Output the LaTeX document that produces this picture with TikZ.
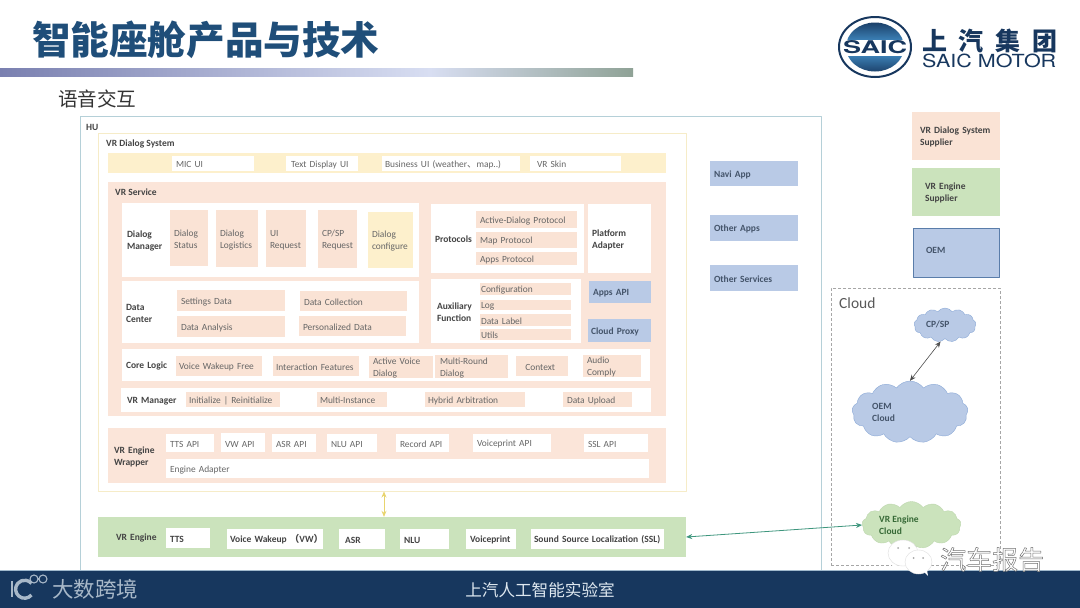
\documentclass[tikz,border=0pt]{standalone}
\usepackage{fontspec}
\usepackage{graphicx}
\setmainfont{Carlito}
\newfontfamily\cjk{Noto Sans CJK SC}
\newfontfamily\heros{TeX Gyre Heros}
\usetikzlibrary{shapes.symbols,arrows.meta}
\definecolor{peach}{HTML}{FBE5D9}
\definecolor{peachb}{HTML}{FAE3D5}
\definecolor{cream}{HTML}{FDF0CC}
\definecolor{bluebx}{HTML}{B9CAE6}
\definecolor{greenbx}{HTML}{CBE3BC}
\definecolor{navy}{HTML}{17375E}
\definecolor{titleblue}{HTML}{1F4E79}
\definecolor{txtgray}{HTML}{666666}
\definecolor{txtdark}{HTML}{444444}
\definecolor{txtblue}{HTML}{44546A}
\definecolor{barA}{HTML}{7A80B0}
\definecolor{barB}{HTML}{D8DEF2}
\definecolor{barC}{HTML}{8FA296}
\definecolor{logoblue}{HTML}{3A7DB2}
\definecolor{huline}{HTML}{B5D0D8}
\definecolor{dlgline}{HTML}{F6ECC8}
\definecolor{oemline}{HTML}{5A7DAA}
\definecolor{cloudblue}{HTML}{8CAAD7}
\definecolor{cloudgreen}{HTML}{BED7AF}
\definecolor{arrowyellow}{HTML}{E8D46E}
\definecolor{arrowgreen}{HTML}{3E967D}
\definecolor{footline}{HTML}{A0B9CD}
\definecolor{foottext}{HTML}{DEE8F0}
\definecolor{footgray}{HTML}{A8B8C8}
\newcommand{\bx}[8]{%
  \pgfmathsetmacro{\bxw}{#4-#2}\pgfmathsetmacro{\bxh}{#5-#3}\pgfmathsetmacro{\bxt}{max(#4-#2-2*#7,1)}%
  \node[#6,minimum width=\bxw pt,minimum height=\bxh pt,text width=\bxt pt,inner xsep=#7 pt,inner ysep=0pt,align=left] (#1) at ({(#2+#4)/2},{(#3+#5)/2}) {\rule{0pt}{9pt}#8};}
\tikzset{
  thin txt/.style={font=\fontsize{9.4}{12}\selectfont,text=txtgray},
  bold txt/.style={font=\fontsize{9.5}{12}\selectfont\bfseries,text=txtdark},
  pbox/.style={fill=peachb,thin txt},
  wbox/.style={fill=white,thin txt},
  wbold/.style={fill=white,bold txt},
  ybox/.style={fill=cream,thin txt},
  bbox/.style={fill=bluebx,bold txt,text=txtblue},
  lbl/.style={inner sep=0pt,anchor=west,bold txt},
  cloudshape/.style={cloud,cloud puffs=13,cloud puff arc=110,aspect=1.9,inner sep=0pt,draw=#1},
  cloudtxt/.style={inner sep=0pt,anchor=west,align=left,bold txt,text=txtblue},
  dbl/.style={{Stealth[length=6pt,width=5pt]}-{Stealth[length=6pt,width=5pt]}}
}
\begin{document}
\begin{tikzpicture}[x=1pt,y=-1pt,line join=round]
\useasboundingbox (0,0) rectangle (1080,608);
\fill[white] (0,0) rectangle (1080,608);

% title and bar
\node[inner sep=0pt,anchor=west,text=titleblue,font=\cjk\bfseries\fontsize{38.6}{40}\selectfont] (title) at (32,40) {智能座舱产品与技术};
\shade[left color=barA,right color=barB] (0,68) rectangle (430,76);
\shade[left color=barB,right color=barC] (430,68) rectangle (633,76);
\node[inner sep=0pt,anchor=west,text=black!80,font=\cjk\fontsize{19.6}{22}\selectfont] (sub) at (58,99) {语音交互};

% SAIC logo
\fill[white,draw=navy,line width=2pt] (875,47) ellipse (36 and 30);
\begin{scope}
\clip (875,47) ellipse (29 and 24.5);
\shade[top color=navy,bottom color=logoblue] (840,20) rectangle (910,39);
\shade[top color=logoblue,bottom color=navy] (840,56) rectangle (910,75);
\end{scope}
\node[inner sep=0pt,text=navy,font=\heros\bfseries] (saic) at (875,47.5) {\resizebox{64pt}{13pt}{SAIC}};
\node[inner sep=0pt,anchor=west,text=navy,font=\cjk\bfseries\fontsize{25}{27}\selectfont] (zhlogo) at (922,40.5) {\makebox[135pt][s]{上\hfill 汽\hfill 集\hfill 团}};
\node[inner sep=0pt,anchor=west,text=navy,font=\heros] (enlogo) at (922,61) {\resizebox{134pt}{13.5pt}{SAIC MOTOR}};

% HU
\node[draw=huline,line width=1pt,minimum width=741pt,minimum height=454pt,inner sep=0pt] (hu) at (450.5,343) {};
\node[lbl] (hul) at (86,127) {HU};
\node[draw=dlgline,line width=1pt,minimum width=588pt,minimum height=358pt,inner sep=0pt] (dlg) at (392,312) {};
\node[lbl] (dlgl) at (106,143.5) {VR Dialog System};

% UI bar
\bx{uibar}{108}{153}{666}{173}{fill=cream}{0}{}
\bx{mic}{172}{156}{254}{171}{wbox}{4}{MIC UI}
\bx{textui}{286}{156}{358}{171}{wbox}{5}{Text Display UI}
\bx{bizui}{382}{156}{520}{171}{wbox}{3}{Business UI (weather{\cjk 、}map..)}
\bx{skin}{530}{156}{621}{171}{wbox}{7}{VR Skin}

% VR Service
\bx{svc}{108}{182}{666}{416}{fill=peach}{0}{}
\node[lbl] (svcl) at (115,192.5) {VR Service};

\bx{dm}{122}{203}{419}{277}{wbold}{5}{Dialog\\Manager}
\bx{dm1}{170}{210}{208}{266}{pbox}{4}{Dialog\\Status}
\bx{dm2}{216}{210}{258}{267}{pbox}{4}{Dialog\\Logistics}
\bx{dm3}{266}{210}{306}{267}{pbox}{4}{UI\\Request}
\bx{dm4}{318}{210}{357}{268}{pbox}{4}{CP/SP\\Request}
\bx{dm5}{368}{212}{413}{268}{ybox}{4}{Dialog\\configure}

\bx{dc}{122}{281}{419}{343}{wbold}{4}{Data\\Center}
\bx{dc1}{177}{290}{285}{311}{pbox}{4}{Settings Data}
\bx{dc2}{177}{316}{285}{337}{pbox}{4}{Data Analysis}
\bx{dc3}{300}{291}{407}{311}{pbox}{4}{Data Collection}
\bx{dc4}{299}{316}{406}{336}{pbox}{4}{Personalized Data}

\bx{pr}{431}{204}{584}{273}{wbold}{4}{Protocols}
\bx{pr1}{476}{211}{577}{228}{pbox}{4}{Active-Dialog Protocol}
\bx{pr2}{476}{232}{577}{248}{pbox}{4}{Map Protocol}
\bx{pr3}{476}{252}{577}{265}{pbox}{4}{Apps Protocol}
\bx{pa}{588}{204}{651}{273}{wbold}{4}{Platform\\Adapter}

\bx{au}{431}{279}{581}{343}{wbold}{6}{Auxiliary\\Function}
\bx{au1}{480}{283}{571}{295}{pbox}{1}{Configuration}
\bx{au2}{480}{300}{571}{310}{pbox}{1}{Log}
\bx{au3}{480}{314}{571}{326}{pbox}{1}{Data Label}
\bx{au4}{480}{329}{571}{340}{pbox}{1}{Utils}
\bx{aapi}{589}{281}{651}{303}{bbox}{4}{Apps API}
\bx{cpx}{588}{319}{651}{342}{bbox}{3}{Cloud Proxy}

\bx{cl}{122}{349}{650}{381}{wbold}{4}{Core Logic}
\bx{cl1}{176}{356}{262}{376}{pbox}{3}{Voice Wakeup Free}
\bx{cl2}{273}{356}{359}{376}{pbox}{3}{Interaction Features}
\bx{cl3}{369}{356}{433}{378}{pbox}{4}{Active Voice\\Dialog}
\bx{cl4}{435}{356}{508}{377}{pbox}{5}{Multi-Round\\Dialog}
\bx{cl5}{516}{356}{568}{376}{pbox}{0}{\quad Context}
\bx{cl6}{583}{356}{641}{376}{pbox}{4}{Audio\\Comply}

\bx{vm}{121}{388}{651}{412}{wbold}{6}{VR Manager}
\bx{vm1}{186}{392}{280}{407}{pbox}{3}{Initialize | Reinitialize}
\bx{vm2}{317}{392}{387}{407}{pbox}{3}{Multi-Instance}
\bx{vm3}{425}{392}{525}{407}{pbox}{3}{Hybrid Arbitration}
\bx{vm4}{563}{392}{632}{407}{pbox}{4}{Data Upload}

% wrapper
\bx{wr}{108}{428}{666}{483}{fill=peach,bold txt}{6}{VR Engine\\Wrapper}
\bx{w1}{166}{434}{214}{452}{wbox}{4}{TTS API}
\bx{w2}{221}{433}{265}{452}{wbox}{4}{VW API}
\bx{w3}{272}{434}{316}{452}{wbox}{4}{ASR API}
\bx{w4}{327}{434}{377}{452}{wbox}{4}{NLU API}
\bx{w5}{396}{434}{449}{452}{wbox}{4}{Record API}
\bx{w6}{473}{434}{551}{452}{wbox}{4}{Voiceprint API}
\bx{w7}{584}{434}{648}{452}{wbox}{4}{SSL API}
\bx{w8}{166}{459}{649}{478}{wbox}{4}{Engine Adapter}

% engine
\bx{eng}{98}{517}{686}{557}{fill=greenbx,bold txt}{18}{VR Engine}
\bx{e1}{166}{528}{210}{548}{wbold}{4}{TTS}
\bx{e2}{227}{529}{323}{549}{wbold}{3}{\mbox{Voice Wakeup {\cjk （}VW{\cjk ）}}}
\bx{e3}{339}{529}{385}{549}{wbold}{6}{ASR}
\bx{e4}{400}{529}{449}{549}{wbold}{4}{NLU}
\bx{e5}{466}{529}{516}{549}{wbold}{4}{Voiceprint}
\bx{e6}{531}{529}{664}{549}{wbold}{3}{Sound Source Localization (SSL)}

% apps
\bx{navi}{710}{161}{798}{186}{bbox}{4}{Navi App}
\bx{oapp}{710}{215}{798}{241}{bbox}{4}{Other Apps}
\bx{osvc}{710}{265}{798}{291}{bbox}{4}{Other Services}

% legend
\bx{lg1}{912}{112}{1000}{160}{fill=peachb,bold txt}{8}{VR Dialog System\\Supplier}
\bx{lg2}{912}{168}{1000}{216}{fill=greenbx,bold txt}{13}{VR Engine\\Supplier}
\bx{lg3}{913}{228}{999}{277}{fill=bluebx,draw=oemline,bold txt,text=txtblue}{13}{OEM\\[-5pt]\mbox{}}

% cloud area
\node[draw=gray!70,densely dashed,line width=0.5pt,minimum width=169pt,minimum height=277pt,inner sep=0pt] (clarea) at (915.5,426.5) {};
\node[inner sep=0pt,anchor=west,text=black!65,font=\fontsize{15.5}{17}\selectfont] (cloudl) at (839,303.5) {Cloud};

\node[cloudshape=cloudblue,fill=bluebx,minimum width=62pt,minimum height=34pt] (cpc) at (945,325) {};
\node[cloudshape=cloudblue,fill=bluebx,minimum width=116pt,minimum height=62pt] (oemc) at (910,412) {};
\node[cloudshape=cloudgreen,fill=greenbx,minimum width=99pt,minimum height=47pt] (vrc) at (911.5,525) {};
\node[cloudtxt] (cpt) at (926,324) {CP/SP};
\node[cloudtxt] (oemt) at (872,412) {OEM\\Cloud};
\node[cloudtxt,text=txtdark!80!green] (vrt) at (879,525) {VR Engine\\Cloud};

% connectors
\coordinate (ax) at (384,0);
\draw[dbl,draw=arrowyellow,fill=arrowyellow,line width=0.9pt] (dlg.south -| ax) -- (eng.north -| ax);
\draw[dbl,draw=arrowgreen,line width=0.8pt] (eng.east) -- (vrc.west);
\draw[dbl,draw=black!70,line width=0.6pt] (cpc.255) -- (oemc.north);

% footer
\fill[navy] (0,571) rectangle (1080,608);
\draw[footline,line width=0.6pt] (0,570.7) -- (1080,570.7);
\node[inner sep=0pt,text=foottext,font=\cjk\fontsize{16.6}{18}\selectfont] (foot) at (540,590.5) {上汽人工智能实验室};
\node[inner sep=0pt,anchor=west,text=footgray,font=\cjk\fontsize{21.5}{24}\selectfont] (dskj) at (52,589) {大数跨境};
\draw[footgray,line width=2.4pt] (12,581) -- (12,597);
\draw[footgray,line width=3.4pt] (31.5,595) arc[start angle=40,end angle=320,radius=9];
\draw[footgray,line width=1.1pt] (34,579) circle (4) (43,579) circle (4);

% watermark
\fill[white,draw=gray!25] (903,553) ellipse (15 and 13);
\fill[white] (893,564) -- (890,569) -- (899,566) -- cycle;
\fill[white,draw=gray!25] (918.5,562) ellipse (13.5 and 12);
\fill[white] (924,572) -- (928,576) -- (927,570) -- cycle;
\fill[gray!70] (898,548) circle (1) (909,548) circle (1) (913.5,558) circle (1) (923,558) circle (1);
\node[inner sep=0pt,anchor=west,text=white,font=\cjk\fontsize{26}{28}\selectfont] (wm) at (940,559.5) {\special{pdf:code q 2 Tr 0.5 w 0.45 G}汽车报告\special{pdf:code Q}};
\end{tikzpicture}
\end{document}
